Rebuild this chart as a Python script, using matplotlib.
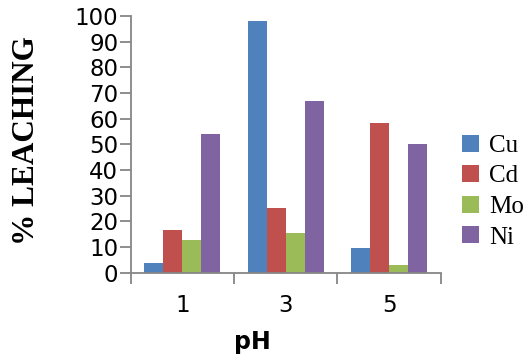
import numpy as np
import matplotlib
matplotlib.use('Agg')
import matplotlib.pyplot as plt

# pH values and % leaching per metal
ph_labels = ['1', '3', '5']
metals = ['Cu', 'Cd', 'Mo', 'Ni']
cu = [3.8, 98.1, 9.6]
cd = [16.6, 25.2, 58.3]
mo = [12.7, 15.5, 3.0]
ni = [54.0, 66.9, 50.1]

COLORS = ['#4F81BD', '#C0504D', '#9BBB59', '#8064A2']
AXIS_GRAY = '#868686'

fig = plt.figure(figsize=(5.26, 3.56), dpi=100)
ax = fig.add_axes([0.2485, 0.234, 0.5895, 0.721])

x = np.arange(len(ph_labels))
width = 0.184
series = [cu, cd, mo, ni]
for i, (name, vals) in enumerate(zip(metals, series)):
    offset = (i - 1.5) * width
    ax.bar(x + offset, vals, width, color=COLORS[i], label=name)

ax.set_xlim(-0.5, len(ph_labels) - 0.5)
ax.set_ylim(0, 100)
ax.set_yticks(range(0, 101, 10))

# boundary ticks between groups, labels at group centers
ax.set_xticks(np.arange(-0.5, len(ph_labels), 1.0))
ax.set_xticklabels([])
ax.set_xticks(x, minor=True)
ax.set_xticklabels(ph_labels, minor=True)
ax.tick_params(axis='x', which='major', length=8, width=1.3, color=AXIS_GRAY, direction='out')
ax.tick_params(axis='x', which='minor', length=0, pad=15, labelsize=16.5)
ax.tick_params(axis='y', length=8, width=1.3, color=AXIS_GRAY, direction='out',
               pad=1, labelsize=16.5)

for side in ['top', 'right']:
    ax.spines[side].set_visible(False)
for side in ['left', 'bottom']:
    ax.spines[side].set_color(AXIS_GRAY)
    ax.spines[side].set_linewidth(1.3)

fig.text(0.479, 0.04, 'pH', ha='center', va='center', fontsize=17, fontweight='bold')
fig.text(0.051, 0.604, '% LEACHING', rotation=90, ha='center', va='center',
         family='Liberation Serif', fontweight='bold', fontsize=22.5)

leg = ax.legend(loc='center left', bbox_to_anchor=(1.068, 0.316), frameon=False,
                prop={'family': 'Liberation Serif', 'size': 18},
                handlelength=0.68, handleheight=0.68, handletextpad=0.4,
                labelspacing=0.33, borderaxespad=0, borderpad=0)

fig.savefig('out.png', dpi=100)
